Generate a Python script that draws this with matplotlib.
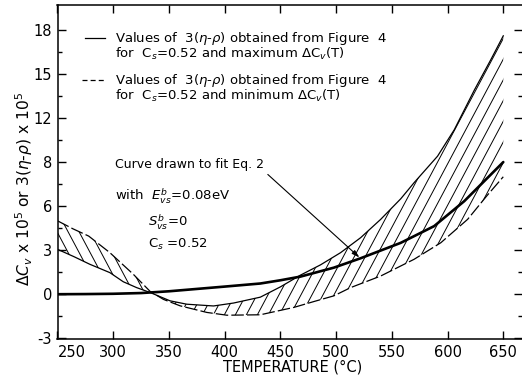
import numpy as np
import matplotlib
matplotlib.use("Agg")
import matplotlib.pyplot as plt
from matplotlib.patches import Polygon
from matplotlib.collections import LineCollection

# ---- data ----
T_fit = [250, 275, 300, 325, 350, 375, 400, 432, 450, 468, 498, 522, 558, 588, 615, 650]
fit_vals = [0.0, 0.01, 0.03, 0.08, 0.2, 0.36, 0.52, 0.73, 0.95, 1.2, 1.81, 2.45, 3.5, 4.64, 6.34, 9.0]

T_max = [250, 265, 279, 297, 309, 321, 333, 351, 366, 390, 408, 432, 450, 468, 486, 504, 522,
         540, 558, 570, 591, 606, 624, 639, 650]
max_vals = [3.06, 2.55, 2.04, 1.47, 0.85, 0.45, 0.12, -0.45, -0.68, -0.8, -0.6, -0.2, 0.5,
            1.3, 2.0, 2.83, 3.85, 5.1, 6.5, 7.6, 9.4, 11.2, 13.9, 16.0, 17.6]

T_min = [250, 264, 278, 297, 318, 333, 345, 360, 384, 402, 432, 462, 480, 498, 513, 540,
         570, 594, 618, 635, 650]
min_vals = [5.0, 4.45, 3.96, 2.83, 1.36, 0.2, -0.35, -0.79, -1.24, -1.43, -1.4, -0.9, -0.5,
            -0.11, 0.45, 1.24, 2.38, 3.51, 5.1, 6.68, 8.0]

x_ticks = [250, 300, 350, 400, 450, 500, 550, 600, 650]
y_ticks = [-3, 0, 3, 6, 9, 12, 15, 18]
y_tick_labels = ['-3', '0', '3', '6', '8', '12', '15', '18']

plt.rcParams['font.family'] = ['DejaVu Sans']
plt.rcParams['mathtext.fontset'] = 'dejavusans'

W_PX, H_PX = 522, 379
fig = plt.figure(figsize=(W_PX / 100, H_PX / 100), dpi=100)
ax_l, ax_r, ax_t, ax_b = 57.5, 522.0, 5.0, 339.0
ax = fig.add_axes([ax_l / W_PX, 1 - ax_b / H_PX, (ax_r - ax_l) / W_PX, (ax_b - ax_t) / H_PX])
AW, AH = ax_r - ax_l, ax_b - ax_t

ax.set_xlim(250, 666.8)
ax.set_ylim(-3.05, 19.7)

# curves
ax.plot(T_fit, fit_vals, color='black', lw=1.9, solid_capstyle='round')
ax.plot(T_max, max_vals, color='black', lw=0.9)
ax.plot(T_min, min_vals, color='black', lw=0.9, linestyle=(0, (10, 2.5)))

# hatched bands between the two curves
split = 333
left_poly = [(t, v) for t, v in zip(T_max, max_vals) if t <= split] + \
            [(t, v) for t, v in zip(T_min, min_vals) if t <= split][::-1]
right_poly = [(t, v) for t, v in zip(T_max, max_vals) if t >= split] + \
             [(t, v) for t, v in zip(T_min, min_vals) if t >= split][::-1]


def hatch(poly_pts, angle_deg, spacing_px, backslash=False):
    patch = Polygon(poly_pts, closed=True, facecolor='none', edgecolor='none',
                    transform=ax.transData)
    ax.add_patch(patch)
    dx = AH / np.tan(np.radians(angle_deg)) / AW
    segs = []
    k = -80
    while k * spacing_px / AW < 1.5:
        x0 = k * spacing_px / AW
        if backslash:
            segs.append([(x0, 1), (x0 + dx, 0)])
        else:
            segs.append([(x0, 0), (x0 + dx, 1)])
        k += 1
    lc = LineCollection(segs, colors='black', linewidths=0.7, transform=ax.transAxes)
    ax.add_collection(lc)
    lc.set_clip_path(patch)


hatch(left_poly, 62, 11.0, backslash=True)
hatch(right_poly, 62, 11.0, backslash=False)

# ticks
ax.set_xticks(x_ticks)
ax.set_yticks(y_ticks)
ax.set_yticklabels(y_tick_labels)
ax.set_yticks(np.arange(-1.5, 19, 3), minor=True)
ax.tick_params(which='both', direction='in', top=True, right=True, labelsize=10.5,
               width=1.0, pad=4)
ax.tick_params(which='major', length=6)
ax.tick_params(which='minor', length=3)
ax.tick_params(axis='x', which='minor', bottom=False, top=False)
for s in ax.spines.values():
    s.set_linewidth(1.1)
ax.spines['right'].set_visible(False)
fig.canvas.draw()
ax.get_xticklabels()[0].set_horizontalalignment('left')

ax.set_xlabel('TEMPERATURE (°C)', fontsize=10.5, labelpad=4)
ax.set_ylabel(r'$\Delta C_v$ x 10$^5$ or 3($\eta$-$\rho$) x 10$^5$', fontsize=11.2)


def ax_x(px):
    return (px - ax_l) / AW


def ax_y(py):
    return (ax_b - py) / AH


ax.yaxis.set_label_coords(ax_x(35), ax_y(189))
ax.xaxis.set_label_coords(ax_x(293), ax_y(372))
ax.xaxis.label.set_va('baseline')

fs = 9.5
# legend (drawn manually)
ax.plot([ax_x(85), ax_x(105)], [ax_y(38), ax_y(38)], color='black', lw=0.9,
        transform=ax.transAxes)
ax.plot([ax_x(82), ax_x(106)], [ax_y(80), ax_y(80)], color='black', lw=0.9,
        linestyle=(0, (4, 2.5)), transform=ax.transAxes)
ax.text(ax_x(115), ax_y(42), r'Values of  3($\eta$-$\rho$) obtained from Figure  4',
        transform=ax.transAxes, fontsize=fs, va='baseline')
ax.text(ax_x(115), ax_y(58), r'for  C$_s$=0.52 and maximum $\Delta$C$_v$(T)',
        transform=ax.transAxes, fontsize=fs, va='baseline')
ax.text(ax_x(115), ax_y(84), r'Values of  3($\eta$-$\rho$) obtained from Figure  4',
        transform=ax.transAxes, fontsize=fs, va='baseline')
ax.text(ax_x(115), ax_y(100), r'for  C$_s$=0.52 and minimum $\Delta$C$_v$(T)',
        transform=ax.transAxes, fontsize=fs, va='baseline')

# annotation
ax.annotate('Curve drawn to fit Eq. 2', xy=(521, 2.5), xycoords='data',
            xytext=(ax_x(115), ax_y(168)), textcoords='axes fraction',
            fontsize=9.0, va='baseline',
            arrowprops=dict(arrowstyle='-|>,head_length=0.5,head_width=0.15', color='black',
                            lw=0.8, shrinkA=1, shrinkB=0, relpos=(1.0, 0.0)))
ax.text(ax_x(115), ax_y(200), r'with  $E_{vs}^{b}$=0.08eV', transform=ax.transAxes,
        fontsize=fs, va='baseline')
ax.text(ax_x(148), ax_y(227), r'$S_{vs}^{b}$=0', transform=ax.transAxes,
        fontsize=fs, va='baseline')
ax.text(ax_x(148), ax_y(248), r'C$_s$ =0.52', transform=ax.transAxes,
        fontsize=fs, va='baseline')

fig.savefig('out.png', dpi=100)
